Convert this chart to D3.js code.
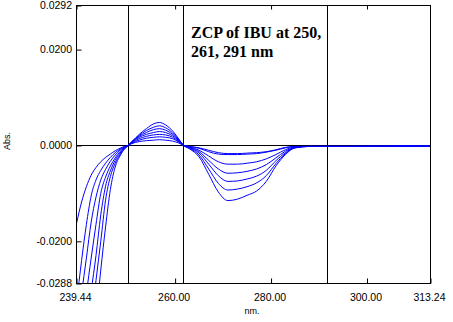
<!DOCTYPE html>
<html><head><meta charset="utf-8">
<script src="https://cdn.jsdelivr.net/npm/d3@7"></script>
<style>
html,body{margin:0;padding:0;background:#fff;}
svg{display:block;}
</style></head>
<body>
<svg id="chart" width="453" height="322"></svg>
<script>
// wavelengths (nm)
const wavelengths = [239.44, 240.5, 241.5, 242.5, 243.5, 244.5, 245.5, 246.5, 247.5, 248.5, 249.4, 250.2,
  251, 252.5, 254, 255.5, 256.7, 258, 259.5, 260.8, 261.8,
  263, 265, 267, 269, 271, 273, 275, 277, 279, 281, 283, 285, 288, 291.7, 296, 313.24];

const abs1 = [-0.0163, -0.0118, -0.0086, -0.0062, -0.0046, -0.0034, -0.0025, -0.0018, -0.0011, -0.0006, -0.0002, 0,
  0.0004, 0.0008, 0.0010, 0.0011, 0.0012, 0.0011, 0.0009, 0.0005, 0,
  -0.0002, -0.0005, -0.0010, -0.0015, -0.0017, -0.0017, -0.0016, -0.0015, -0.0013, -0.0009, -0.0004, -0.0002, -0.0002, -0.0002, -0.0002, -0.0001];
const abs2 = [-0.033, -0.0240, -0.0165, -0.0105, -0.0072, -0.0052, -0.0037, -0.0025, -0.0015, -0.0008, -0.0003, 0,
  0.0005, 0.0011, 0.0015, 0.0017, 0.0018, 0.0017, 0.0014, 0.0007, 0,
  -0.0002, -0.0006, -0.0013, -0.0018, -0.0019, -0.0019, -0.0018, -0.0017, -0.0014, -0.0010, -0.0005, -0.0002, -0.0002, -0.0002, -0.0002, -0.0001];
const abs3 = [-0.040, -0.031, -0.0235, -0.0160, -0.0108, -0.0072, -0.0050, -0.0033, -0.0020, -0.0010, -0.0004, 0,
  0.0006, 0.0014, 0.0019, 0.0022, 0.0023, 0.0022, 0.0017, 0.0008, 0,
  -0.0003, -0.0010, -0.0022, -0.0034, -0.0039, -0.0039, -0.0037, -0.0034, -0.0028, -0.0019, -0.0009, -0.0003, -0.0002, -0.0002, -0.0002, -0.0001];
const abs4 = [-0.048, -0.040, -0.031, -0.0235, -0.0165, -0.0100, -0.0066, -0.0043, -0.0026, -0.0013, -0.0005, 0,
  0.0007, 0.0017, 0.0023, 0.0027, 0.0029, 0.0027, 0.0020, 0.0010, 0,
  -0.0004, -0.0013, -0.0031, -0.0049, -0.0058, -0.0057, -0.0054, -0.0049, -0.0040, -0.0026, -0.0012, -0.0004, -0.0002, -0.0002, -0.0002, -0.0001];
const abs5 = [-0.055, -0.047, -0.039, -0.0305, -0.0230, -0.0145, -0.0085, -0.0053, -0.0031, -0.0016, -0.0006, 0,
  0.0008, 0.0019, 0.0027, 0.0033, 0.0035, 0.0032, 0.0023, 0.0011, 0,
  -0.0005, -0.0016, -0.0039, -0.0063, -0.0075, -0.0074, -0.0070, -0.0064, -0.0052, -0.0032, -0.0015, -0.0004, -0.0002, -0.0002, -0.0002, -0.0001];
const abs6 = [-0.062, -0.054, -0.046, -0.037, -0.0282, -0.0200, -0.0114, -0.0065, -0.0037, -0.0019, -0.0007, 0,
  0.0008, 0.0021, 0.0031, 0.0038, 0.0041, 0.0037, 0.0026, 0.0012, 0,
  -0.0006, -0.0020, -0.0049, -0.0079, -0.0093, -0.0091, -0.0086, -0.0078, -0.0063, -0.0038, -0.0017, -0.0005, -0.0002, -0.0002, -0.0002, -0.0001];
const abs7 = [-0.070, -0.062, -0.054, -0.045, -0.036, -0.0260, -0.0170, -0.0092, -0.0045, -0.0022, -0.0008, 0,
  0.0008, 0.0023, 0.0035, 0.0045, 0.0048, 0.0043, 0.0030, 0.0013, 0,
  -0.0007, -0.0024, -0.0060, -0.0097, -0.0115, -0.0112, -0.0104, -0.0095, -0.0075, -0.0043, -0.0019, -0.0005, -0.0002, -0.0002, -0.0002, -0.0001];
const seriesList = [abs1, abs2, abs3, abs4, abs5, abs6, abs7];

const xDomain = [239.44, 313.24];
const yDomain = [-0.0288, 0.0292];
const xTicks = [239.44, 260, 280, 300, 313.24];
const xTickLabels = ["239.44", "260.00", "280.00", "300.00", "313.24"];
const yTicks = [0.0292, 0.02, 0, -0.02, -0.0288];
const yTickLabels = ["0.0292", "0.0200", "0.0000", "-0.0200", "-0.0288"];
const zcpLines = [250.2, 261.8, 291.7];
const titleLines = ["ZCP of IBU at 250,", "261, 291 nm"];
const xTitle = "nm.";
const yTitle = "Abs.";

const svg = d3.select("#chart");
const L = 76.5, R = 430.5, T = 5.5, B = 283.5;
const x = d3.scaleLinear().domain(xDomain).range([L, R]);
const y = d3.scaleLinear().domain(yDomain).range([B, T]);
const snap = v => Math.round(v - 0.5) + 0.5;

svg.append("defs").append("clipPath").attr("id", "clip")
  .append("rect").attr("x", L).attr("y", T).attr("width", R - L).attr("height", B - T);

// zero line
svg.append("line").attr("x1", L).attr("x2", R).attr("y1", snap(y(0))).attr("y2", snap(y(0)))
  .attr("stroke", "#000").attr("stroke-width", 1);

// ZCP vertical lines
svg.selectAll("line.zcp").data(zcpLines).join("line").attr("class", "zcp")
  .attr("x1", d => snap(x(d))).attr("x2", d => snap(x(d)))
  .attr("y1", T).attr("y2", B).attr("stroke", "#000").attr("stroke-width", 1);

// curves
const line = d3.line().x((d, i) => x(wavelengths[i])).y(d => y(d)).curve(d3.curveMonotoneX);
svg.append("g").attr("clip-path", "url(#clip)")
  .selectAll("path").data(seriesList).join("path")
  .attr("d", line).attr("fill", "none").attr("stroke", "#0000ff").attr("stroke-width", 1);

// frame
svg.append("rect").attr("x", L).attr("y", T).attr("width", R - L).attr("height", B - T)
  .attr("fill", "none").attr("stroke", "#000").attr("stroke-width", 1);

// bottom axis (ticks inward)
const xAxisB = d3.axisBottom(x).tickValues(xTicks).tickSizeInner(-5).tickSizeOuter(0)
  .tickPadding(10).tickFormat((d, i) => xTickLabels[i]);
const gB = svg.append("g").attr("transform", `translate(0,${B})`).call(xAxisB);
gB.select(".domain").remove();
gB.selectAll("text").attr("font-family", "Liberation Sans, Arial, sans-serif").attr("font-size", 10.5).attr("fill", "#000").attr("dx", -1.5);
gB.selectAll(".tick line").attr("stroke", "#000");

// top ticks (inward)
const xAxisT = d3.axisTop(x).tickValues(xTicks.filter(v => v < 313)).tickSizeInner(-4).tickSizeOuter(0).tickFormat("");
const gT = svg.append("g").attr("transform", `translate(0,${T})`).call(xAxisT);
gT.select(".domain").remove();
gT.selectAll(".tick line").attr("stroke", "#000");

// left axis (ticks inward)
const yAxisL = d3.axisLeft(y).tickValues(yTicks).tickSizeInner(-5).tickSizeOuter(0)
  .tickPadding(4.5).tickFormat((d, i) => yTickLabels[i]);
const gL = svg.append("g").attr("transform", `translate(${L},0)`).call(yAxisL);
gL.select(".domain").remove();
gL.selectAll("text").attr("font-family", "Liberation Sans, Arial, sans-serif").attr("font-size", 10.5).attr("fill", "#000");
gL.selectAll(".tick line").attr("stroke", "#000");

// axis titles
svg.append("text").attr("x", 252).attr("y", 314).attr("text-anchor", "middle")
  .attr("font-family", "Liberation Sans, Arial, sans-serif").attr("font-size", 9).attr("fill", "#000").text(xTitle);
svg.append("text").attr("transform", "translate(10,141) rotate(-90)").attr("text-anchor", "middle")
  .attr("font-family", "Liberation Sans, Arial, sans-serif").attr("font-size", 9).attr("fill", "#000").text(yTitle);

// annotation
svg.append("g").selectAll("text").data(titleLines).join("text")
  .attr("x", 191).attr("y", (d, i) => 38 + i * 18.5)
  .attr("font-family", "Liberation Serif, Times New Roman, serif").attr("font-weight", "bold")
  .attr("font-size", 16).attr("fill", "#000").text(d => d);
</script>
</body></html>
